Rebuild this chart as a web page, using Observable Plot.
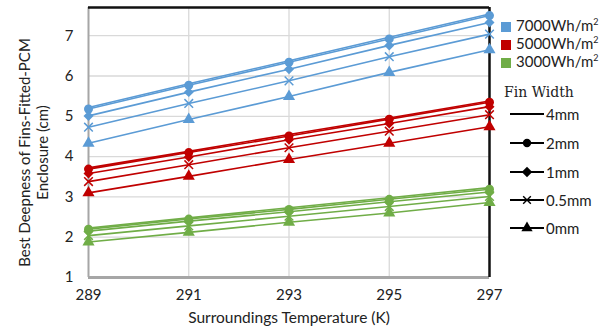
<!DOCTYPE html>
<html><head><meta charset="utf-8">
<script src="https://cdn.jsdelivr.net/npm/d3@7"></script>
<script src="https://cdn.jsdelivr.net/npm/@observablehq/plot@0.6"></script>
<style>
body{margin:0;background:#fff;}
#wrap{position:relative;width:606px;height:333px;font-family:Lato,"Open Sans",sans-serif;}
#leg{position:absolute;left:0;top:0;width:606px;height:333px;pointer-events:none;}
.sw{position:absolute;font-size:15px;color:#222;white-space:nowrap;}
</style></head><body>
<div id="wrap"><div id="chart"></div><div id="leg"></div></div>
<script>
const temps = [289, 291, 293, 295, 297];
const finWidths = ["4mm", "2mm", "1mm", "0.5mm", "0mm"];
const energies = ["7000Wh/m²", "5000Wh/m²", "3000Wh/m²"];
const colors = ["#5B9BD5", "#C00000", "#70AD47"];
const yTicks = [1, 2, 3, 4, 5, 6, 7];
const xTicks = [289, 291, 293, 295, 297];
// values per fin width, at temps
const blue7000 = [
  [5.22, 5.81, 6.38, 6.96, 7.54],
  [5.18, 5.77, 6.34, 6.92, 7.50],
  [5.01, 5.60, 6.17, 6.76, 7.33],
  [4.73, 5.32, 5.88, 6.48, 7.04],
  [4.33, 4.92, 5.49, 6.09, 6.65]
];
const red5000 = [
  [3.72, 4.13, 4.55, 4.96, 5.38],
  [3.69, 4.10, 4.51, 4.93, 5.35],
  [3.58, 3.99, 4.42, 4.82, 5.24],
  [3.38, 3.80, 4.22, 4.63, 5.04],
  [3.10, 3.51, 3.93, 4.33, 4.74]
];
const green3000 = [
  [2.23, 2.48, 2.73, 2.98, 3.23],
  [2.20, 2.45, 2.69, 2.94, 3.19],
  [2.15, 2.40, 2.63, 2.88, 3.12],
  [2.04, 2.28, 2.52, 2.76, 3.01],
  [1.88, 2.12, 2.37, 2.60, 2.86]
];
const symbols = [null, "circle", "diamond2", "times", "triangle"];
const groups = [blue7000, red5000, green3000];

const rows = [];
groups.forEach((g, gi) => g.forEach((vals, fi) => vals.forEach((v, ti) => {
  rows.push({t: temps[ti], v, energy: energies[gi], fin: finWidths[fi], series: gi + "-" + fi, color: colors[gi], sym: symbols[fi]});
})));
const filled = rows.filter(d => d.sym && d.sym !== "times");
const crosses = rows.filter(d => d.sym === "times");

const chart = Plot.plot({
  width: 606, height: 333,
  marginLeft: 88, marginRight: 117, marginTop: 7, marginBottom: 56,
  style: {fontFamily: "Lato, 'Open Sans', sans-serif", fontSize: "15px", color: "#222"},
  x: {domain: [289, 297], label: null},
  y: {domain: [1, 7.7], label: null},
  marks: [
    Plot.gridY(yTicks.filter(d => d > 1), {stroke: "#d9d9d9", strokeOpacity: 1, strokeWidth: 1.3}),
    Plot.gridX(xTicks.filter(d => d > 289 && d < 297), {stroke: "#d9d9d9", strokeOpacity: 1, strokeWidth: 1.3}),
    Plot.ruleX([289], {stroke: "#a6a6a6", strokeWidth: 2}),
    Plot.ruleY([1], {stroke: "#a6a6a6", strokeWidth: 3}),
    Plot.ruleY([7.7], {stroke: "#111", strokeWidth: 2.5}),
    Plot.ruleX([297], {stroke: "#111", strokeWidth: 2.5}),
    Plot.line(rows, {x: "t", y: "v", z: "series", stroke: "color", strokeWidth: 1.6}),
    Plot.dot(filled, {x: "t", y: "v", symbol: "sym", fill: "color", stroke: "none", r: 4.5}),
    Plot.dot(crosses, {x: "t", y: "v", symbol: "times", stroke: "color", strokeWidth: 1.5, r: 4}),
    Plot.axisX({ticks: xTicks, tickSize: 0, tickPadding: 12, fontSize: 15, tickFormat: d3.format("d")}),
    Plot.axisY({ticks: yTicks, tickSize: 0, tickPadding: 15, fontSize: 15, tickFormat: d3.format("d")}),
    Plot.text(["Surroundings Temperature (K)"], {frameAnchor: "bottom", dy: 45, fontSize: 15.5}),
    Plot.text(["Best Deepness of Fins-Fitted-PCM\nEnclosure (cm)"], {frameAnchor: "left", textAnchor: "middle", dx: -55, dy: 10, rotate: -90, fontSize: 15, lineHeight: 1.15})
  ]
});
document.getElementById("chart").appendChild(chart);

// legend
const leg = document.getElementById("leg");
const eTops = [25, 43, 61];
energies.forEach((e, i) => {
  const d = document.createElement("div");
  d.className = "sw";
  d.style.left = "501px"; d.style.top = (eTops[i] - 9) + "px";
  d.innerHTML = `<span style="display:inline-block;width:10px;height:10px;background:${colors[i]};margin-right:5px;vertical-align:-1px"></span>${e.replace("²", "<sup style='font-size:9px'>2</sup>")}`;
  leg.appendChild(d);
});
const ft = document.createElement("div");
ft.className = "sw";
ft.style.left = "504px"; ft.style.top = "84px";
ft.style.fontFamily = "'DejaVu Serif','Liberation Serif',serif";
ft.style.fontSize = "14px";
ft.textContent = "Fin Width";
leg.appendChild(ft);
const fTops = [113, 142, 171, 199, 227];
const symPaths = {
  circle: d3.symbol(d3.symbolCircle, 55)(),
  diamond2: d3.symbol(d3.symbolDiamond2, 70)(),
  times: d3.symbol(d3.symbolTimes, 40)(),
  triangle: d3.symbol(d3.symbolTriangle, 55)()
};
finWidths.forEach((f, i) => {
  const d = document.createElement("div");
  d.className = "sw";
  d.style.left = "510px"; d.style.top = (fTops[i] - 10) + "px";
  const s = symbols[i];
  let mk = "";
  if (s) mk = s === "times"
    ? `<path transform="translate(17,10)" d="${symPaths[s]}" stroke="#000" stroke-width="1.4" fill="none"/>`
    : `<path transform="translate(17,10)" d="${symPaths[s]}" fill="#000"/>`;
  d.innerHTML = `<svg width="34" height="20" style="vertical-align:middle"><line x1="0" x2="34" y1="10" y2="10" stroke="#000" stroke-width="1.8"/>${mk}</svg><span style="margin-left:2px;vertical-align:middle">${f}</span>`;
  leg.appendChild(d);
});
</script>
</body></html>
